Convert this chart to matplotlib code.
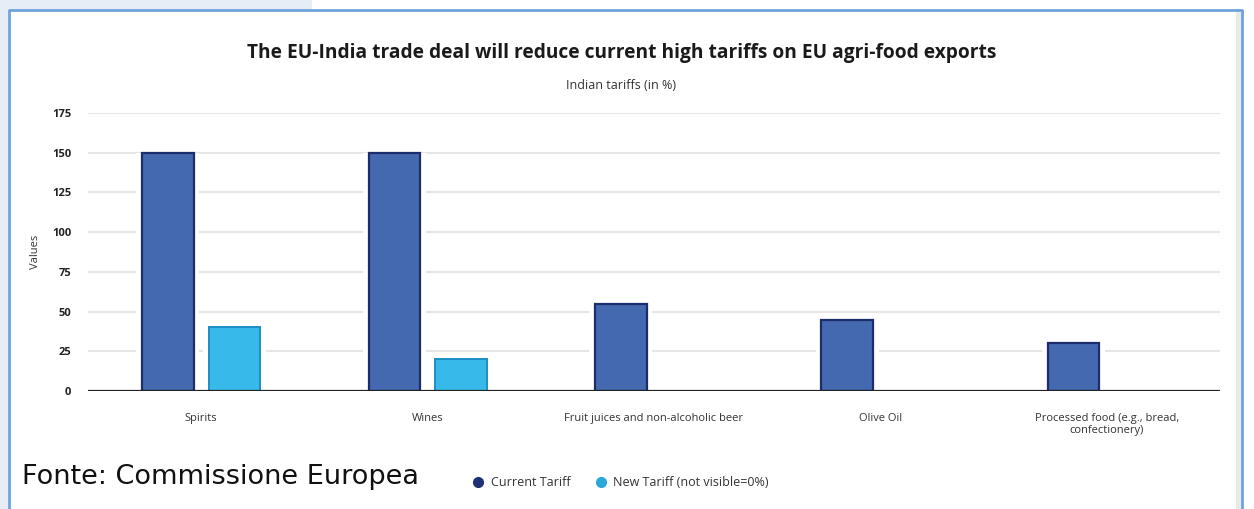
import numpy as np
import matplotlib.pyplot as plt
from matplotlib.patches import Rectangle
from matplotlib.lines import Line2D

# data
categories = ['Spirits', 'Wines', 'Fruit juices and non-alcoholic beer',
              'Olive Oil', 'Processed food (e.g., bread,\nconfectionery)']
current_tariff = [150, 150, 55, 45, 30]
new_tariff = [40, 20, 0, 0, 0]
yticks = [0, 25, 50, 75, 100, 125, 150, 175]

W, H = 1254, 509
c_cur = '#4569b1'
c_cur_edge = '#1b2d6b'
c_new = '#37b9e9'
c_new_edge = '#1c8fc2'

plt.rcParams['font.family'] = ['Open Sans', 'DejaVu Sans']

fig = plt.figure(figsize=(W/100, H/100), dpi=100)
fig.patch.set_facecolor('white')


def px(x, y):
    # pixel (top-left origin) -> figure fraction
    return x/W, 1 - y/H


# screenshot frame
bg = '#e6edf6'
fig.add_artist(Rectangle((0, 1 - 10/H), 312/W, 10/H, transform=fig.transFigure,
                         facecolor=bg, edgecolor='none', zorder=0))
fig.add_artist(Rectangle((0, 0), 8/W, 1, transform=fig.transFigure,
                         facecolor=bg, edgecolor='none', zorder=0))
fig.add_artist(Rectangle((1236/W, 0), 5/W, 1 - 12/H, transform=fig.transFigure,
                         facecolor='#e9e9e9', edgecolor='none', zorder=0))
fig.add_artist(Line2D([9/W, 9/W, 1242/W, 1242/W], [0, 1 - 10/H, 1 - 10/H, 0],
                      transform=fig.transFigure, color='#6ea3dc', lw=2, zorder=1))

ax = fig.add_axes([88/W, 1 - 391/H, (1220 - 88)/W, (391 - 113)/H])
x = np.arange(len(categories))
bw = 0.228
off = 0.147

for yv in yticks[1:]:
    ax.axhline(yv, color='#e6e6e6', lw=1.5, zorder=1)

# white halo so gridlines break around bars
ax.bar(x - off, current_tariff, width=bw + 0.05, color='white', zorder=2)
ax.bar(x + off, new_tariff, width=bw + 0.05, color='white', zorder=2)
ax.bar(x - off, current_tariff, width=bw, color=c_cur, edgecolor=c_cur_edge,
       linewidth=1.6, zorder=3)
nx = [xi + off for xi, v in zip(x, new_tariff) if v > 0]
nv = [v for v in new_tariff if v > 0]
ax.bar(nx, nv, width=bw, color=c_new, edgecolor=c_new_edge, linewidth=1.4, zorder=3)
ax.axhline(0, color='#222222', lw=1.6, zorder=4)

ax.set_xlim(-0.5, 4.5)
ax.set_ylim(0, 175)
ax.set_yticks(yticks)
ax.set_yticklabels([str(v) for v in yticks], fontsize=8, color='#222222',
                   fontweight='bold')
ax.set_xticks(x)
ax.set_xticklabels(categories, fontsize=8, color='#333333', linespacing=1.1)
ax.tick_params(axis='y', length=0, pad=12)
ax.tick_params(axis='x', length=0, pad=16)
for s in ax.spines.values():
    s.set_visible(False)
ax.set_ylabel('Values', fontsize=8, color='#333333', labelpad=8)

fig.text(*px(622, 53), 'The EU-India trade deal will reduce current high tariffs on EU agri-food exports',
         ha='center', va='center', fontsize=13.8, fontweight='bold', color='#1a1a1a')
fig.text(*px(621, 86), 'Indian tariffs (in %)', ha='center', va='center',
         fontsize=9, color='#333333')

fig.text(*px(22, 477), 'Fonte: Commissione Europea', ha='left', va='center',
         fontsize=19.5, color='#111111', family='DejaVu Sans')

# legend
fig.add_artist(Line2D([478/W], [1 - 482/H], marker='o', markersize=7, color='#1f2f78',
                      transform=fig.transFigure, lw=0))
fig.text(*px(491, 482), 'Current Tariff', ha='left', va='center', fontsize=9, color='#333333')
fig.add_artist(Line2D([601/W], [1 - 482/H], marker='o', markersize=7, color='#2aa8dc',
                      transform=fig.transFigure, lw=0))
fig.text(*px(613, 482), 'New Tariff (not visible=0%)', ha='left', va='center',
         fontsize=9, color='#333333')

fig.savefig('out.png', dpi=100)
